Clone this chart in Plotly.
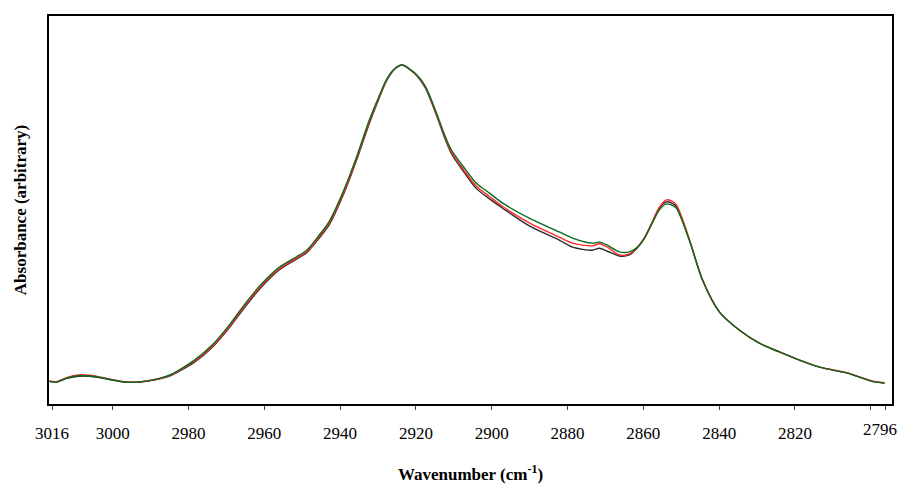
import plotly.graph_objects as go

# Wavenumbers (cm-1)
wavenumber = [3016.7, 3015.0, 3012.0, 3009.0, 3006.0, 3003.0, 3000.0, 2997.0, 2993.0, 2990.0,
              2987.0, 2984.5, 2982.4, 2978.5, 2973.7, 2969.2, 2964.7, 2960.5, 2956.0, 2951.6,
              2948.9, 2945.5, 2942.9, 2938.9, 2935.5, 2932.3, 2929.7, 2927.8, 2925.7, 2923.6,
              2921.7, 2919.8, 2917.5, 2914.6, 2912.5, 2910.7, 2907.2, 2904.1, 2900.6, 2897.2,
              2890.1, 2882.2, 2878.7, 2873.5, 2871.6, 2869.5, 2866.3, 2863.7, 2861.8, 2859.7,
              2857.6, 2855.8, 2853.9, 2852.6, 2851.3, 2847.9, 2844.4, 2839.9, 2834.7, 2829.4,
              2824.1, 2818.8, 2813.5, 2806.4, 2799.6, 2796.4]

# Absorbance (arbitrary units) for the three spectra
absorb_black = [0.067, 0.065, 0.076, 0.082, 0.082, 0.077, 0.071, 0.065, 0.065, 0.069,
                0.076, 0.085, 0.097, 0.123, 0.168, 0.226, 0.293, 0.349, 0.397, 0.428,
                0.447, 0.491, 0.530, 0.626, 0.726, 0.830, 0.905, 0.955, 0.990, 1.003,
                0.991, 0.972, 0.935, 0.855, 0.790, 0.742, 0.684, 0.638, 0.607, 0.580,
                0.527, 0.485, 0.464, 0.455, 0.461, 0.452, 0.438, 0.441, 0.459, 0.491,
                0.538, 0.580, 0.598, 0.595, 0.585, 0.487, 0.367, 0.272, 0.219, 0.180,
                0.154, 0.130, 0.109, 0.092, 0.067, 0.062]

absorb_red = [0.068, 0.066, 0.079, 0.086, 0.085, 0.079, 0.072, 0.066, 0.065, 0.070,
              0.077, 0.086, 0.099, 0.126, 0.171, 0.229, 0.297, 0.353, 0.400, 0.431,
              0.450, 0.495, 0.535, 0.630, 0.730, 0.835, 0.907, 0.957, 0.991, 1.003,
              0.991, 0.973, 0.938, 0.858, 0.794, 0.747, 0.690, 0.645, 0.614, 0.585,
              0.536, 0.494, 0.476, 0.468, 0.474, 0.464, 0.441, 0.444, 0.461, 0.492,
              0.540, 0.582, 0.604, 0.601, 0.590, 0.489, 0.368, 0.272, 0.219, 0.180,
              0.154, 0.130, 0.109, 0.093, 0.068, 0.063]

absorb_green = [0.067, 0.065, 0.077, 0.084, 0.083, 0.078, 0.071, 0.065, 0.065, 0.070,
                0.078, 0.088, 0.101, 0.129, 0.175, 0.234, 0.302, 0.358, 0.405, 0.435,
                0.454, 0.500, 0.540, 0.636, 0.736, 0.840, 0.911, 0.959, 0.991, 1.003,
                0.991, 0.974, 0.940, 0.862, 0.798, 0.753, 0.698, 0.654, 0.624, 0.595,
                0.550, 0.509, 0.491, 0.476, 0.479, 0.470, 0.450, 0.450, 0.462, 0.491,
                0.536, 0.574, 0.592, 0.589, 0.580, 0.485, 0.367, 0.272, 0.219, 0.180,
                0.154, 0.130, 0.109, 0.092, 0.067, 0.062]

tick_vals = [3016, 3000, 2980, 2960, 2940, 2920, 2900, 2880, 2860, 2840, 2820, 2800, 2796]
tick_text = ["3016", "3000", "2980", "2960", "2940", "2920", "2900", "2880", "2860",
             "2840", "2820", "", ""]
end_label = "2796"

fig = go.Figure()
series = [("Spectrum 1", absorb_black, "#2b2b2b"),
          ("Spectrum 2", absorb_red, "#ff2a2a"),
          ("Spectrum 3", absorb_green, "#0a6b1e")]
for name, vals, col in series:
    fig.add_trace(go.Scatter(x=wavenumber, y=vals, mode="lines", name=name,
                             line=dict(color=col, width=1.4, shape="spline", smoothing=0.8)))

fig.update_layout(
    width=900, height=484,
    margin=dict(l=49, r=8, t=16, b=80),
    paper_bgcolor="white", plot_bgcolor="white",
    showlegend=False,
    font=dict(family="Liberation Serif", size=17, color="black"),
)
fig.update_xaxes(
    range=[3016.8, 2794.4],
    tickmode="array", tickvals=tick_vals, ticktext=tick_text,
    ticks="outside", ticklen=4, tickwidth=1, tickcolor="#444",
    ticklabelstandoff=9,
    showgrid=False, zeroline=False, automargin=False,
    showline=True, linecolor="black", linewidth=2, mirror=True,
    title=dict(text="<b>Wavenumber (cm<sup>-1</sup>)</b>", font=dict(size=17), standoff=30),
)
fig.update_yaxes(
    range=[0, 1.148],
    showticklabels=False, ticks="",
    showgrid=False, zeroline=False, automargin=False,
    showline=True, linecolor="black", linewidth=2, mirror=True,
    title=dict(text="<b>Absorbance (arbitrary)</b>", font=dict(size=17), standoff=16),
)
# last tick label, nudged left so it stays inside the page as in the original
fig.add_annotation(x=2797.6, xref="x", y=0, yref="paper", yshift=-25, yanchor="middle",
                   text=end_label, showarrow=False, font=dict(size=17))

fig.write_html("out.html")
